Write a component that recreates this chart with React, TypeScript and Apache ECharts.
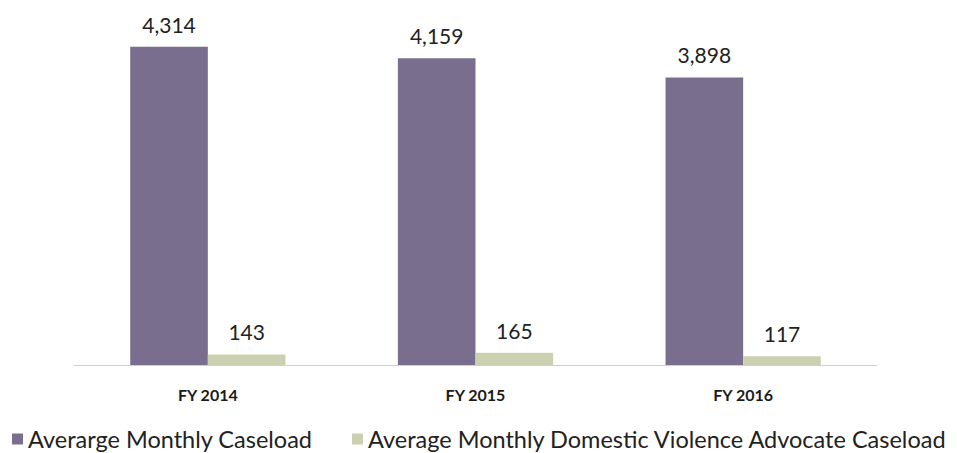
import React, { useEffect, useRef } from "react";
import * as echarts from "echarts";

const categories = ["FY 2014", "FY 2015", "FY 2016"];
const seriesNames = [
  "Averarge Monthly Caseload",
  "Average Monthly Domestic Violence Advocate Caseload",
];
const caseload = [4314, 4159, 3898];
const dvCaseload = [143, 165, 117];

export default function App() {
  const ref = useRef<HTMLDivElement>(null);
  useEffect(() => {
    const chart = echarts.init(ref.current!, null, { renderer: "svg" });
    const font = "Lato";
    const fmt = (p: any) => Number(p.value).toLocaleString("en-US");
    const legendBase = {
      top: 427,
      padding: 0,
      itemWidth: 11,
      itemHeight: 11,
      icon: "rect",
      textStyle: { fontSize: 23.5, color: "#222", fontFamily: font },
    };
    chart.setOption({
      animation: false,
      textStyle: { fontFamily: font },
      grid: { left: 74, right: 80, top: 33, bottom: 88 },
      legend: [
        { ...legendBase, left: 12, data: [seriesNames[0]] },
        { ...legendBase, left: 352, data: [seriesNames[1]] },
      ],
      xAxis: {
        type: "category",
        data: categories,
        axisTick: { show: false },
        axisLine: { lineStyle: { color: "#cfcfcf", width: 1 } },
        axisLabel: {
          fontSize: 16,
          fontWeight: "bold",
          color: "#1a1a1a",
          margin: 21,
          fontFamily: font,
        },
      },
      yAxis: { type: "value", min: 0, max: 4500, show: false, splitLine: { show: false } },
      series: [
        {
          name: seriesNames[0],
          type: "bar",
          data: caseload,
          barGap: "0%",
          barCategoryGap: "42%",
          itemStyle: { color: "#7a6e8e" },
          label: { show: true, position: "top", distance: 12, fontSize: 21, color: "#222", formatter: fmt },
        },
        {
          name: seriesNames[1],
          type: "bar",
          data: dvCaseload,
          itemStyle: { color: "#cbd1b0" },
          label: { show: true, position: "top", distance: 12, fontSize: 21, color: "#222", formatter: fmt },
        },
      ],
    });
    return () => chart.dispose();
  }, []);
  return (
    <div
      ref={ref}
      style={{ position: "absolute", left: 0, top: 0, width: 957, height: 453 }}
    />
  );
}
